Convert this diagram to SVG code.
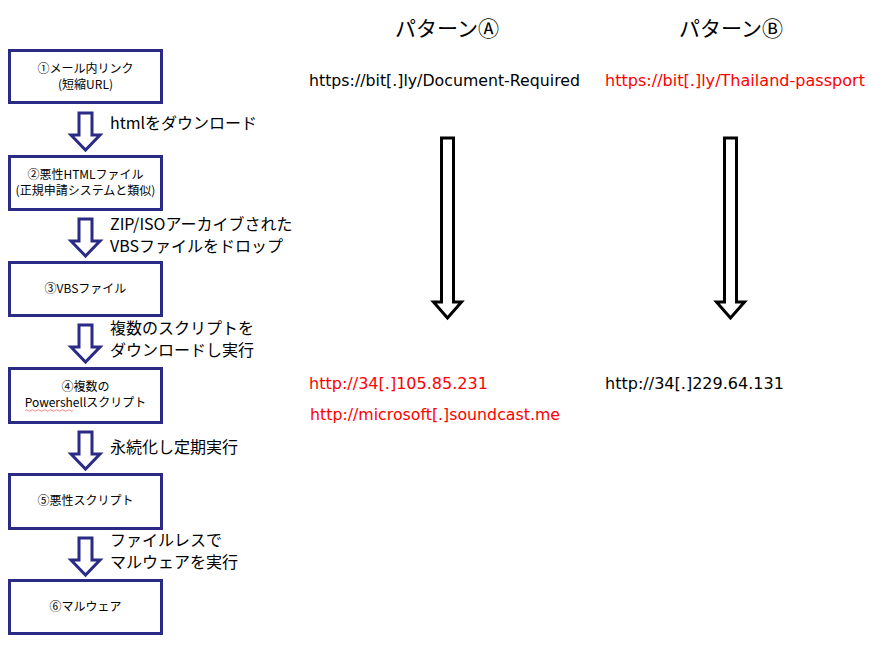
<svg xmlns="http://www.w3.org/2000/svg" width="886" height="671" viewBox="0 0 886 671">
<style>
text{font-family:"Noto Sans CJK JP","DejaVu Sans",sans-serif;fill:#000}
.box{fill:#fff;stroke:#2b2b86;stroke-width:3}
.bt{font-size:12px;text-anchor:middle}
.lbl{font-size:16px}
.url{font-size:15px;font-family:"DejaVu Sans","Noto Sans CJK JP",sans-serif}
.red{fill:#ff0000}
.hd{font-size:21px;text-anchor:middle}
.ba{fill:#fff;stroke:#2b2b86;stroke-width:3;stroke-linejoin:miter}
.ka{fill:#fff;stroke:#000;stroke-width:3;stroke-linejoin:miter}
</style>
<defs>
<path id="barrow" d="M-6.5,0 H6.5 V22 H14.5 L0,37 L-14.5,22 H-6.5 Z"/>
<path id="karrow" d="M-6,0 H6 V164 H14 L0,180 L-14,164 H-6 Z"/>
</defs>
<rect width="886" height="671" fill="#fff"/>

<g id="connectors">
<use href="#barrow" class="ba" transform="translate(85.5,113)"/>
<use href="#barrow" class="ba" transform="translate(85.5,219)"/>
<use href="#barrow" class="ba" transform="translate(85.5,325)"/>
<use href="#barrow" class="ba" transform="translate(85.5,432)"/>
<use href="#barrow" class="ba" transform="translate(85.5,538)"/>
<use href="#karrow" class="ka" transform="translate(447.5,138)"/>
<use href="#karrow" class="ka" transform="translate(730.5,138)"/>
</g>

<g id="step-labels">
<text class="lbl" x="110" y="129">htmlをダウンロード</text>
<text class="lbl" x="110" y="230">ZIP/ISOアーカイブされた</text>
<text class="lbl" x="110" y="252">VBSファイルをドロップ</text>
<text class="lbl" x="110" y="334">複数のスクリプトを</text>
<text class="lbl" x="110" y="356">ダウンロードし実行</text>
<text class="lbl" x="110" y="453">永続化し定期実行</text>
<text class="lbl" x="110" y="546">ファイルレスで</text>
<text class="lbl" x="110" y="568">マルウェアを実行</text>
</g>

<g id="node1">
<rect class="box" x="9.5" y="50.5" width="152" height="52"/>
<text class="bt" x="85.5" y="73">①メール内リンク</text>
<text class="bt" x="85.5" y="89">(短縮URL)</text>
</g>
<g id="node2">
<rect class="box" x="9.5" y="156.5" width="152" height="53"/>
<text class="bt" x="85.5" y="179">②悪性HTMLファイル</text>
<text class="bt" x="85.5" y="195">(正規申請システムと類似)</text>
</g>
<g id="node3">
<rect class="box" x="9.5" y="262.5" width="152" height="53"/>
<text class="bt" x="85.5" y="293">③VBSファイル</text>
</g>
<g id="node4">
<rect class="box" x="9.5" y="368.5" width="152" height="54"/>
<text class="bt" x="85.5" y="391">④複数の</text>
<text class="bt" x="85.5" y="407">Powershellスクリプト</text>
<path d="M25,410.5 q1.5,-1.5 3,0 t3,0 t3,0 t3,0 t3,0 t3,0 t3,0 t3,0 t3,0 t3,0 t3,0 t3,0 t3,0 t3,0 t3,0 t3,0" fill="none" stroke="#ff0000" stroke-width="0.8" opacity="0.6"/>
</g>
<g id="node5">
<rect class="box" x="9.5" y="474.5" width="152" height="54"/>
<text class="bt" x="85.5" y="505">⑤悪性スクリプト</text>
</g>
<g id="node6">
<rect class="box" x="9.5" y="580.5" width="152" height="53"/>
<text class="bt" x="85.5" y="611">⑥マルウェア</text>
</g>

<g id="patternA">
<text class="hd" x="447" y="36">パターンⒶ</text>
<text class="url" x="309" y="86" textLength="271" lengthAdjust="spacingAndGlyphs">https://bit[.]ly/Document-Required</text>
<text class="url red" x="309" y="389" textLength="179" lengthAdjust="spacingAndGlyphs">http://34[.]105.85.231</text>
<text class="url red" x="310" y="420" textLength="250" lengthAdjust="spacingAndGlyphs">http://microsoft[.]soundcast.me</text>
</g>
<g id="patternB">
<text class="hd" x="731" y="36">パターンⒷ</text>
<text class="url red" x="605" y="86" textLength="260" lengthAdjust="spacingAndGlyphs">https://bit[.]ly/Thailand-passport</text>
<text class="url" x="605" y="389" textLength="179" lengthAdjust="spacingAndGlyphs">http://34[.]229.64.131</text>
</g>
</svg>
